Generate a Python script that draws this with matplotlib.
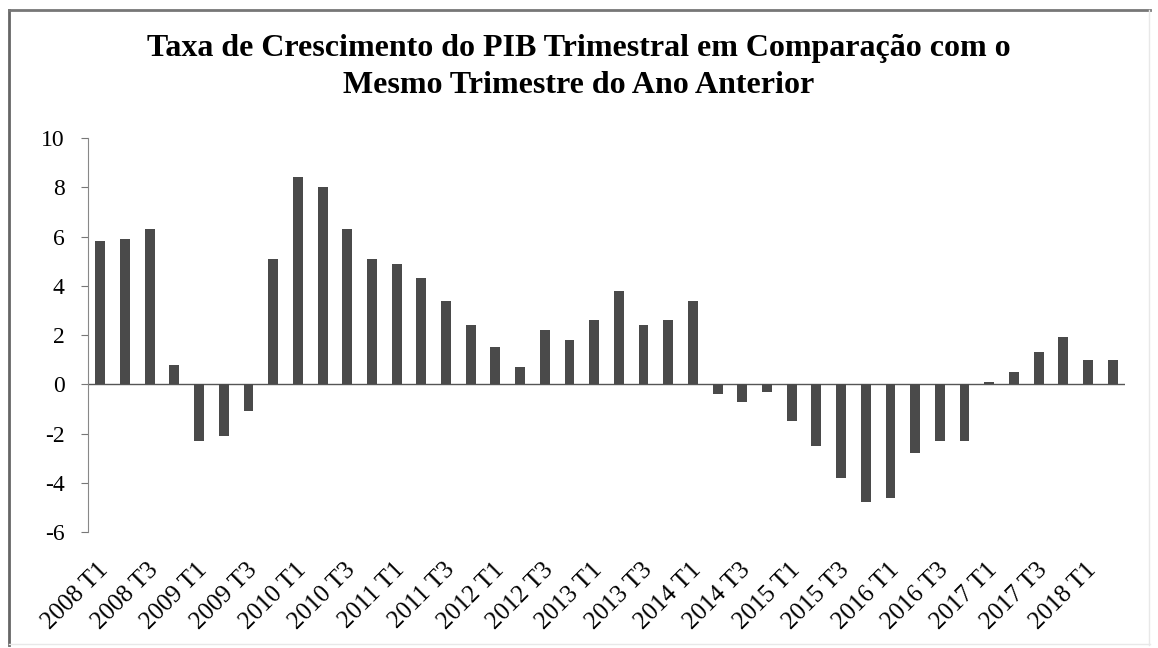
import numpy as np
import matplotlib.pyplot as plt
from matplotlib.lines import Line2D
from matplotlib.transforms import ScaledTranslation

plt.rcParams['font.family'] = ['Liberation Serif', 'DejaVu Serif']
plt.rcParams['axes.unicode_minus'] = False

# Quarters 2008 T1 .. 2018 T2
anos = [str(a) for a in range(2008, 2019)]
trimestres = [f"{a} T{t}" for a in anos for t in (1, 2, 3, 4)][:42]

crescimento = [5.8, 5.9, 6.3, 0.8, -2.3, -2.1, -1.1, 5.1,
               8.4, 8.0, 6.3, 5.1, 4.9, 4.3, 3.4, 2.4,
               1.5, 0.7, 2.2, 1.8, 2.6, 3.8, 2.4, 2.6,
               3.4, -0.4, -0.7, -0.3, -1.5, -2.5, -3.8, -4.8,
               -4.6, -2.8, -2.3, -2.3, 0.1, 0.5, 1.3, 1.9,
               1.0, 1.0]

titulo = "Taxa de Crescimento do PIB Trimestral em Comparação com o\nMesmo Trimestre do Ano Anterior"

fig = plt.figure(figsize=(11.58, 6.48), dpi=100)
ax = fig.add_axes([0.076, 0.179, 0.8955, 0.608])

x = np.arange(len(crescimento))
ax.bar(x, crescimento, width=0.4, color='#4a4a4a', zorder=3)
ax.axhline(0, color='#555555', linewidth=1, zorder=2)

ax.set_xlim(-0.5, len(crescimento) - 0.5)
ax.set_ylim(-6, 10)
ax.set_yticks(np.arange(-6, 11, 2))
ax.tick_params(axis='y', labelsize=17, length=5, color='#777777', pad=12)

ax.set_xticks(x[::2])
ax.set_xticklabels(trimestres[::2], rotation=45, ha='right', va='center',
                   rotation_mode='anchor', fontsize=18)
ax.tick_params(axis='x', length=0, pad=25)
shift = ScaledTranslation(0.05, 0, fig.dpi_scale_trans)
for lbl in ax.get_xticklabels():
    lbl.set_transform(lbl.get_transform() + shift)

for s in ['top', 'right', 'bottom']:
    ax.spines[s].set_visible(False)
ax.spines['left'].set_color('#888888')

fig.text(0.5, 0.896, titulo, ha='center', va='center', fontsize=23,
         fontweight='bold', linespacing=1.37)

# moldura
fig.add_artist(Line2D([0.008, 0.008], [0.005, 0.985], color='#666666', lw=2))
fig.add_artist(Line2D([0.008, 0.993], [0.985, 0.985], color='#777777', lw=2))
fig.add_artist(Line2D([0.992, 0.992], [0.005, 0.985], color='#e8e8e8', lw=1))
fig.add_artist(Line2D([0.008, 0.993], [0.006, 0.006], color='#e8e8e8', lw=1))

fig.savefig('out.png', dpi=100)
